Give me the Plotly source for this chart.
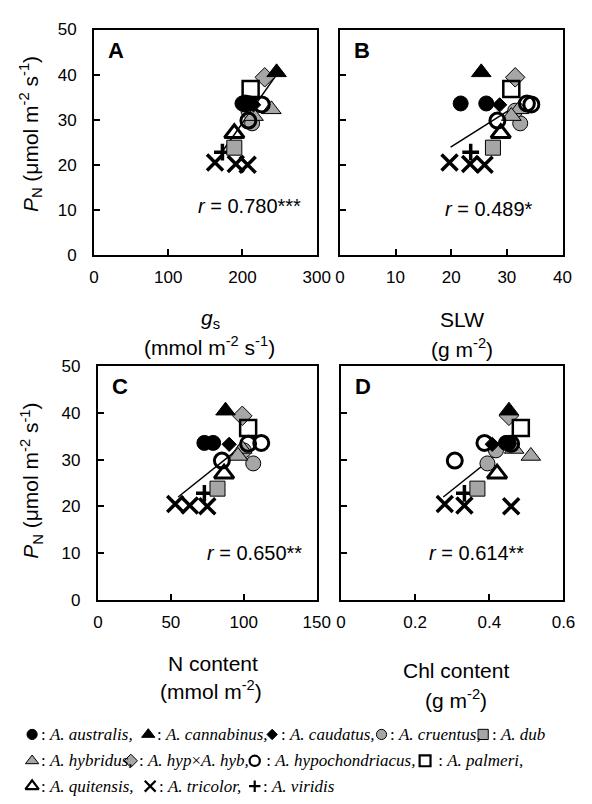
import plotly.graph_objects as go

# ---- data ----
species = ["A. australis", "A. australis", "A. cannabinus", "A. caudatus",
           "A. cruentus", "A. cruentus", "A. dubius", "A. hybridus", "A. hybridus",
           "A. hyp x A. hyb", "A. hypochondriacus", "A. hypochondriacus",
           "A. hypochondriacus", "A. palmeri", "A. quitensis",
           "A. tricolor", "A. tricolor", "A. tricolor", "A. viridis"]
pn = [33.6, 33.6, 40.5, 33.3, 29.2, 32.0, 23.8, 32.3, 30.8, 39.4,
      33.6, 33.4, 29.8, 36.8, 27.0, 20.5, 20.2, 20.0, 22.8]
gs = [200, 210, 246, 215, 213, 208, 189, 239, 215, 230,
      204, 226, 208, 211, 189, 163, 191, 207, 173]
slw = [21.7, 26.3, 25.4, 28.7, 32.4, 31.5, 27.5, 32.2, 30.8, 31.5,
       33.6, 34.4, 28.3, 30.8, 28.9, 19.7, 23.4, 26.0, 23.5]
n_content = [73, 79, 87.5, 90, 106.5, 100, 82, 99, 96, 99,
             112, 103, 85, 103, 86.5, 53, 63, 75, 73]
chl = [0.445, 0.452, 0.453, 0.408, 0.395, 0.418, 0.368, 0.467, 0.512, 0.453,
       0.387, 0.459, 0.307, 0.485, 0.421, 0.28, 0.333, 0.459, 0.333]

# regression lines (end points as drawn)
fit_gs, fit_gs_pn = [171, 246], [22.5, 40.0]
fit_slw, fit_slw_pn = [19.9, 31.0], [23.9, 32.6]
fit_n, fit_n_pn = [55, 95], [22.0, 32.0]
fit_chl, fit_chl_pn = [0.276, 0.465], [22.0, 34.0]

r_labels = ["0.780***", "0.489*", "0.650**", "0.614**"]
letters = ["A", "B", "C", "D"]
x_ranges = [[0, 300], [0, 40], [0, 150], [0, 0.6]]
x_tickvals = [[0, 100, 200, 300], [0, 10, 20, 30, 40], [0, 50, 100, 150], [0, 0.2, 0.4, 0.6]]
x_ticktext = [["0", "100", "200", "300"], ["0", "10", "20", "30", "40"],
              ["0", "50", "100", "150"], ["0", "0.2", "0.4", "0.6"]]
y_ticks = [0, 10, 20, 30, 40, 50]

legend_rows = [
    [("A. australis", ": <i>A. australis,</i>"), ("A. cannabinus", ": <i>A. cannabinus,</i>"),
     ("A. caudatus", ": <i>A. caudatus,</i>"), ("A. cruentus", ": <i>A. cruentus,</i>"),
     ("A. dubius", ": <i>A. dub</i>")],
    [("A. hybridus", ": <i>A. hybridus,</i>"), ("A. hyp x A. hyb", ": <i>A. hyp</i>×<i>A. hyb,</i>"),
     ("A. hypochondriacus", " : <i>A. hypochondriacus,</i>"), ("A. palmeri", " : <i>A. palmeri,</i>")],
    [("A. quitensis", ": <i>A. quitensis,</i>"), ("A. tricolor", ": <i>A. tricolor,</i>"),
     ("A. viridis", ": <i>A. viridis</i>")],
]

# ---- styles ----
W, H = 592, 804
GRAY = "#a6a6a6"
SANS = "Liberation Sans, Arial, sans-serif"
SERIF = "Liberation Serif, Times New Roman, serif"

def px(x):
    return x / W

def py(y):
    return 1 - y / H

style = {
    "A. tricolor": dict(symbol="x-thin", size=16, color="black", line=dict(color="black", width=3.5)),
    "A. viridis": dict(symbol="cross-thin", size=12, color="black", line=dict(color="black", width=3.5)),
    "A. dubius": dict(symbol="square", size=15, color=GRAY, line=dict(color="black", width=1)),
    "A. quitensis": dict(symbol="triangle-up-open", size=17, color="black", line=dict(color="black", width=3)),
    "A. cruentus": dict(symbol="circle", size=15, color=GRAY, line=dict(color="black", width=1)),
    "A. hybridus": dict(symbol="triangle-up", size=17, color=GRAY, line=dict(color="black", width=1)),
    "A. hyp x A. hyb": dict(symbol="diamond", size=15, color=GRAY, line=dict(color="black", width=1)),
    "A. australis": dict(symbol="circle", size=15, color="black", line=dict(color="black", width=1)),
    "A. cannabinus": dict(symbol="triangle-up", size=17, color="black", line=dict(color="black", width=1)),
    "A. caudatus": dict(symbol="diamond", size=11, color="black", line=dict(color="black", width=1)),
    "A. hypochondriacus": dict(symbol="circle-open", size=15, color="black", line=dict(color="black", width=3)),
    "A. palmeri": dict(symbol="square-open", size=16, color="black", line=dict(color="black", width=2.5)),
}

# panel positions in pixels: left, right, top, bottom
boxes = [(92, 322, 21, 252), (346, 576, 21, 252), (96, 322, 366, 605), (347, 577, 366, 605)]
xdata = [gs, slw, n_content, chl]
fits = [(fit_gs, fit_gs_pn), (fit_slw, fit_slw_pn), (fit_n, fit_n_pn), (fit_chl, fit_chl_pn)]

fig = go.Figure()

for k in range(4):
    xa = "x" if k == 0 else f"x{k+1}"
    ya = "y" if k == 0 else f"y{k+1}"
    fig.add_trace(go.Scatter(x=fits[k][0], y=fits[k][1], mode="lines",
                             line=dict(color="black", width=1.5),
                             xaxis=xa, yaxis=ya, showlegend=False, hoverinfo="skip"))
    for sp in style:
        xs = [xdata[k][i] for i in range(len(species)) if species[i] == sp]
        ys = [pn[i] for i in range(len(species)) if species[i] == sp]
        fig.add_trace(go.Scatter(x=xs, y=ys, mode="markers", marker=style[sp],
                                 xaxis=xa, yaxis=ya, showlegend=False, name=sp))

axis_common = dict(showline=True, linecolor="black", linewidth=2, mirror=True,
                   ticks="inside", ticklen=6, tickwidth=1.5, tickcolor="black",
                   showgrid=False, zeroline=False,
                   tickfont=dict(family=SANS, size=17, color="black"))

layout_axes = {}
for k, (l, r, t, b) in enumerate(boxes):
    sx = "" if k == 0 else str(k + 1)
    layout_axes[f"xaxis{sx}"] = dict(axis_common, domain=[px(l), px(r)], range=x_ranges[k],
                                     tickvals=x_tickvals[k], ticktext=x_ticktext[k],
                                     anchor=f"y{sx}", ticklabelstandoff=6)
    layout_axes[f"yaxis{sx}"] = dict(axis_common, domain=[py(b), py(t)], range=[0, 50],
                                     tickvals=y_ticks, anchor=f"x{sx}",
                                     showticklabels=(k % 2 == 0), ticklabelstandoff=12)

# overlay axis for the symbol key at the bottom (pixel coordinates)
layout_axes["xaxis5"] = dict(domain=[0, 1], range=[0, W], visible=False, anchor="y5", fixedrange=True)
layout_axes["yaxis5"] = dict(domain=[0, py(704)], range=[H, 704], visible=False, anchor="x5", fixedrange=True)

def note(x, y, txt, size, family=SANS, **kw):
    d = dict(x=px(x), y=py(y), xref="paper", yref="paper", text=txt, showarrow=False,
             xanchor="center", yanchor="middle", font=dict(family=family, size=size, color="black"))
    d.update(kw)
    return d

annotations = []
for k, (l, r, t, b) in enumerate(boxes):
    annotations.append(note(l + 23, t + 21, f"<b>{letters[k]}</b>", 22))
r_pos = [(253, 202), (500, 205), (258, 557), (487, 557)]
for k, (x, y) in enumerate(r_pos):
    annotations.append(note(x, y, f"<i>r</i> = {r_labels[k]}", 20))

titles = [
    (212, 318, "<i>g</i><sub>s</sub>"), (211, 345, "(mmol m<sup>-2</sup> s<sup>-1</sup>)"),
    (472, 318, "SLW"), (472, 347, "(g m<sup>-2</sup>)"),
    (215, 670, "N content"), (213, 697, "(mmol m<sup>-2</sup>)"),
    (466, 677, "Chl content"), (466, 707, "(g m<sup>-2</sup>)"),
]
for x, y, txt in titles:
    annotations.append(note(x, y, txt, 21))
for y in (128, 483):
    annotations.append(note(27, y, "<i>P</i><sub>N</sub> (μmol m<sup>-2</sup> s<sup>-1</sup>)",
                            21, textangle=-90))

# symbol key
key_x = [[28, 148, 276, 389, 494], [28, 130, 258, 434], [28, 150, 258]]
key_text_x = [[35, 155, 283, 396, 501], [35, 136, 263, 441], [35, 157, 264]]
key_y = [743, 770, 796]
for row, entries in enumerate(legend_rows):
    for j, (sp, label) in enumerate(entries):
        m = dict(style[sp])
        m["size"] = max(8, m["size"] * 0.68)
        if "open" in m["symbol"] or "thin" in m["symbol"]:
            m["line"] = dict(color="black", width=2.2)
        fig.add_trace(go.Scatter(x=[key_x[row][j]], y=[key_y[row]], mode="markers", marker=m,
                                 xaxis="x5", yaxis="y5", showlegend=False, hoverinfo="skip"))
        annotations.append(dict(x=key_text_x[row][j], y=key_y[row], xref="x5", yref="y5",
                                xanchor="left", yanchor="middle", text=label, showarrow=False,
                                font=dict(family=SERIF, size=17, color="black")))

fig.update_layout(width=W, height=H, margin=dict(l=0, r=0, t=0, b=0),
                  paper_bgcolor="white", plot_bgcolor="rgba(0,0,0,0)",
                  showlegend=False, annotations=annotations, **layout_axes)

fig.write_html("out.html", config={"displayModeBar": False},
               post_script="document.body.style.margin='0';document.body.style.overflow='hidden';")
